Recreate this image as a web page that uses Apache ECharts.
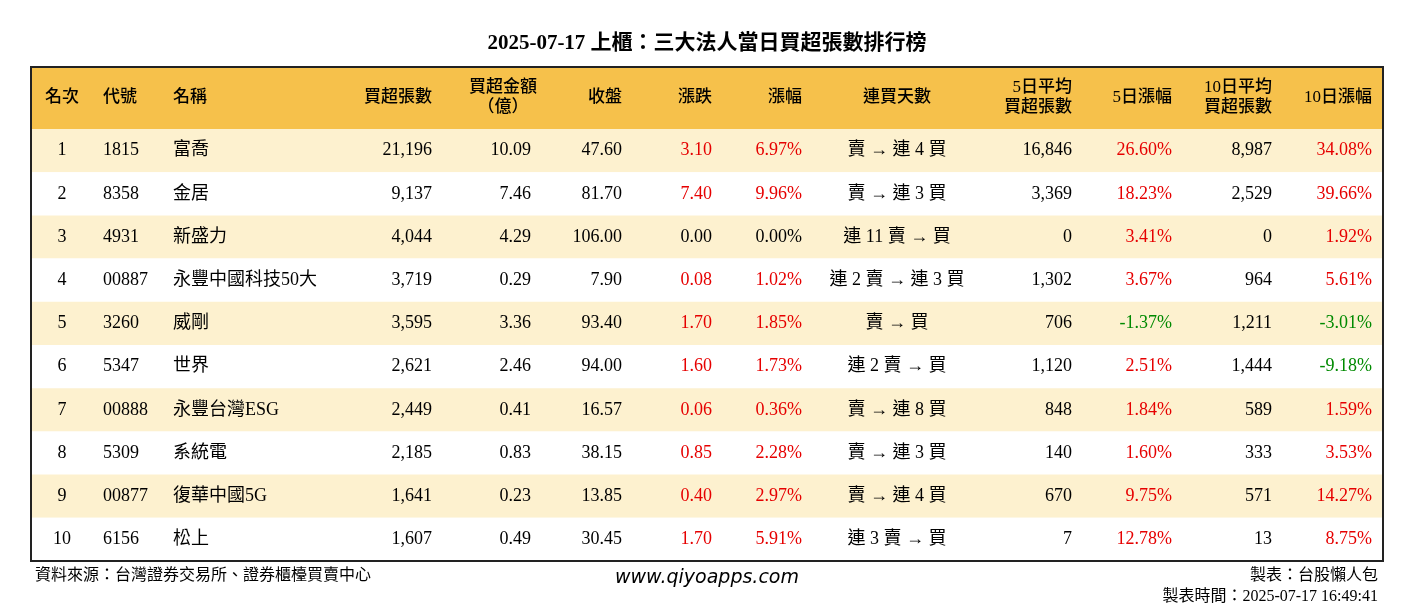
<!DOCTYPE html>
<html><head><meta charset="utf-8">
<script src="https://cdn.jsdelivr.net/npm/echarts@6/dist/echarts.min.js"></script>
<style>html,body{margin:0;padding:0;background:#fff}#c{width:1414px;height:612px}</style>
</head><body><div id="c"></div>
<script>
const ranks=[1,2,3,4,5,6,7,8,9,10];
const codes=['1815','8358','4931','00887','3260','5347','00888','5309','00877','6156'];
const names=['富喬','金居','新盛力','永豐中國科技50大','威剛','世界','永豐台灣ESG','系統電','復華中國5G','松上'];
const netBuy=[21196,9137,4044,3719,3595,2621,2449,2185,1641,1607];
const amount=[10.09,7.46,4.29,0.29,3.36,2.46,0.41,0.83,0.23,0.49];
const close=[47.60,81.70,106.00,7.90,93.40,94.00,16.57,38.15,13.85,30.45];
const change=[3.10,7.40,0.00,0.08,1.70,1.60,0.06,0.85,0.40,1.70];
const pct=[6.97,9.96,0.00,1.02,1.85,1.73,0.36,2.28,2.97,5.91];
const streak=['賣 → 連 4 買','賣 → 連 3 買','連 11 賣 → 買','連 2 賣 → 連 3 買','賣 → 買','連 2 賣 → 買','賣 → 連 8 買','賣 → 連 3 買','賣 → 連 4 買','連 3 賣 → 買'];
const avg5=[16846,3369,0,1302,706,1120,848,140,670,7];
const pct5=[26.60,18.23,3.41,3.67,-1.37,2.51,1.84,1.60,9.75,12.78];
const avg10=[8987,2529,0,964,1211,1444,589,333,571,13];
const pct10=[34.08,39.66,1.92,5.61,-3.01,-9.18,1.59,3.53,14.27,8.75];
const headers=['名次','代號','名稱','買超張數','買超金額\n（億）','收盤','漲跌','漲幅','連買天數','5日平均\n買超張數','5日漲幅','10日平均\n買超張數','10日漲幅'];

const FONT='"Liberation Serif","Noto Sans CJK TC",serif';
const fmt=v=>v.toLocaleString('en-US');
const col=v=>v>0?'#e60000':(v<0?'#008a00':'#000');
const cols=[[31,'center'],[72,'left'],[142,'left'],[401,'right'],[500,'right'],[591,'right'],[681,'right'],[771,'right'],[866,'center'],[1041,'right'],[1141,'right'],[1241,'right'],[1341,'right']];
const hdrCols=[[14,'left'],[72,'left'],[142,'left'],[401,'right'],[472,'center'],[591,'right'],[681,'right'],[771,'right'],[866,'center'],[1041,'right'],[1141,'right'],[1241,'right'],[1341,'right']];

function rowCells(i){
  return [[String(ranks[i]),'#000'],[codes[i],'#000'],[names[i],'#000'],[fmt(netBuy[i]),'#000'],[amount[i].toFixed(2),'#000'],
  [close[i].toFixed(2),'#000'],[change[i].toFixed(2),col(change[i])],[pct[i].toFixed(2)+'%',col(pct[i])],[streak[i],'#000'],
  [fmt(avg5[i]),'#000'],[pct5[i].toFixed(2)+'%',col(pct5[i])],[fmt(avg10[i]),'#000'],[pct10[i].toFixed(2)+'%',col(pct10[i])]];
}
const HDR=-1.435;
const chart=echarts.init(document.getElementById('c'));
chart.setOption({
  animation:false,
  title:{text:'2025-07-17 上櫃：三大法人當日買超張數排行榜',left:'center',top:28,textStyle:{fontFamily:FONT,fontSize:21,fontWeight:'bold',color:'#000'}},
  grid:{left:31,right:31,top:67,bottom:51,show:false},
  xAxis:{type:'value',min:0,max:1352,show:false},
  yAxis:{type:'value',min:HDR,max:10,inverse:true,show:false},
  graphic:[
    {type:'text',left:35,top:568,style:{text:'資料來源：台灣證券交易所、證券櫃檯買賣中心',font:'16px '+FONT,fill:'#000'}},
    {type:'text',left:'center',top:569,style:{text:'www.qiyoapps.com',font:'italic 19px "DejaVu Sans",sans-serif',fill:'#000'}},
    {type:'text',right:36,top:568,style:{text:'製表：台股懶人包',font:'16px '+FONT,fill:'#000'}},
    {type:'text',right:36,top:589,style:{text:'製表時間：2025-07-17 16:49:41',font:'16px '+FONT,fill:'#000'}}
  ],
  series:[{
    type:'custom',coordinateSystem:'cartesian2d',clip:false,
    data:[[-1]].concat(ranks.map((r,i)=>[i])),
    renderItem:(params,api)=>{
      const i=api.value(0);
      const top=i<0?HDR:i, bot=i<0?0:i+1;
      const p0=api.coord([0,top]), p1=api.coord([1352,bot]);
      const midY=(p0[1]+p1[1])/2;
      const bg=i<0?'#f6c14b':(i%2===0?'#fdf1cf':'#ffffff');
      const children=[{type:'rect',shape:{x:p0[0],y:p0[1],width:p1[0]-p0[0],height:p1[1]-p0[1]},style:{fill:bg}}];
      if(i<0){
        headers.forEach((h,k)=>{
          const x=api.coord([hdrCols[k][0],0])[0];
          children.push({type:'text',style:{text:h,x:x,y:midY,align:hdrCols[k][1],verticalAlign:'middle',font:'500 17px '+FONT,fill:'#000',lineHeight:20}});
        });
      } else {
        rowCells(i).forEach((c,k)=>{
          const x=api.coord([cols[k][0],0])[0];
          children.push({type:'text',style:{text:c[0],x:x,y:midY,align:cols[k][1],verticalAlign:'middle',font:'18px '+FONT,fill:c[1]}});
        });
      }
      if(i===9){
        const q0=api.coord([0,HDR]),q1=api.coord([1352,10]);
        children.push({type:'rect',shape:{x:q0[0],y:q0[1],width:q1[0]-q0[0],height:q1[1]-q0[1]},style:{fill:'none',stroke:'#222',lineWidth:2}});
      }
      return {type:'group',children};
    }
  }]
});
</script></body></html>
